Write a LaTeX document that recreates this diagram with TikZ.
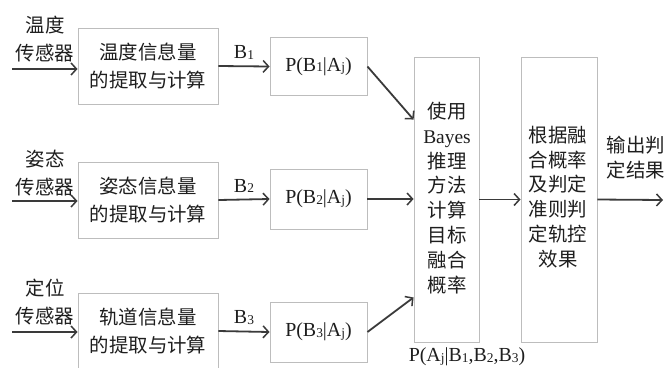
\documentclass[tikz,border=0pt]{standalone}
\usepackage{fontspec}
\setmainfont{Liberation Serif}
\newfontfamily\cjk{Noto Sans CJK SC}
\usetikzlibrary{arrows.meta,calc}
\definecolor{boxgray}{HTML}{BDBDBD}
\definecolor{linkgray}{HTML}{3A3A3A}
\definecolor{inkgray}{HTML}{1E1E1E}
% small index digits/letters
\newcommand\idx[1]{\raisebox{-0.6pt}{\fontsize{13.5}{13.5}\selectfont #1}}

\begin{document}
\begin{tikzpicture}[x=1bp,y=-1bp,
  frame/.style={draw=boxgray,line width=0.9bp,inner sep=0pt,align=center,text=inkgray},
  cn/.style={font=\cjk\fontsize{19.5}{29}\selectfont,align=center,text=inkgray,inner sep=0pt},
  cnt/.style={font=\cjk\fontsize{19.5}{25}\selectfont,align=center,text=inkgray,inner sep=0pt},
  lat/.style={font=\fontsize{20}{24}\selectfont,text=inkgray,inner sep=0pt},
  link/.style={draw=linkgray,line width=1.8bp,
    -{Straight Barb[length=5.5bp,width=12bp,line width=1.5bp]}}]
\useasboundingbox (0,0) rectangle (666,367);
\begin{scope}
\clip (0,0) rectangle (666,367);

% extraction boxes
\node[frame,cn,draw=boxgray,inner sep=0pt,minimum width=140bp,minimum height=76bp] (b1) at (148,66) {温度信息量\\的提取与计算};
\node[frame,cn,draw=boxgray,inner sep=0pt,minimum width=140bp,minimum height=76bp] (b2) at (148,200) {姿态信息量\\的提取与计算};
\node[frame,cn,draw=boxgray,inner sep=0pt,minimum width=140bp,minimum height=76bp] (b3) at (148,331) {轨道信息量\\的提取与计算};

% likelihood boxes
\node[frame,lat,minimum width=97bp,minimum height=58bp] (p1) at (318.5,66.5) {P(B\idx{1}|A\idx{j})};
\node[frame,lat,minimum width=97bp,minimum height=60bp] (p2) at (318.5,199) {P(B\idx{2}|A\idx{j})};
\node[frame,lat,minimum width=97bp,minimum height=60bp] (p3) at (318.5,332) {P(B\idx{3}|A\idx{j})};

% fusion and decision boxes
\node[frame,minimum width=65bp,minimum height=285bp] (bayes) at (446.5,199.5) {};
\node[cnt] (bayestxt) at (447,198) {使用\\{\rmfamily Bayes}\\推理\\方法\\计算\\目标\\融合\\概率};
\node[frame,minimum width=76bp,minimum height=285bp] (judge) at (559,199.5) {};
\node[cnt] (judgetxt) at (558,197) {根据融\\合概率\\及判定\\准则判\\定轨控\\效果};

% sensor labels
\node[cn,font=\cjk\fontsize{19.5}{28}\selectfont] (s1txt) at (45,39) {温度\\传感器};
\node[cn,font=\cjk\fontsize{19.5}{28}\selectfont] (s2txt) at (45,173) {姿态\\传感器};
\node[cn,font=\cjk\fontsize{19.5}{28}\selectfont] (s3txt) at (45,302) {定位\\传感器};

% free ends of the connectors
\coordinate (s1) at (12,69);
\coordinate (s2) at (12,201);
\coordinate (s3) at (12,332);
\coordinate (out) at (663,200);

% sensor inputs
\draw[link] (s1) -- (s1 -| b1.west);
\draw[link] (s2) -- (s2 -| b2.west);
\draw[link] (s3) -- (s3 -| b3.west);

% measurements
\draw[link] (b1.east) -- node[lat,above=6bp] (l1) {B\idx{1}} (p1.west);
\draw[link] (b2.east) -- node[lat,above=6bp] (l2) {B\idx{2}} (p2.west);
\draw[link] (b3.east) -- node[lat,above=6bp] (l3) {B\idx{3}} (p3.west);

% into the fusion step
\draw[link] (p1.east) -- ($(bayes.north west)+(0,63)$);
\draw[link] (p2.east) -- (p2.east -| bayes.west);
\draw[link] (p3.east) -- ($(bayes.south west)+(0,-45)$);

% decision and output
\draw[link] (bayes.east |- judge.center) -- (judge.west);
\draw[link] (judge.east) -- (out);
\node[cnt] (outtxt) at (636,158) {输出判\\定结果};

\node[lat] (post) at (467,357) {P(A\idx{j}|B\idx{1},B\idx{2},B\idx{3})};
\end{scope}
\end{tikzpicture}
\end{document}
